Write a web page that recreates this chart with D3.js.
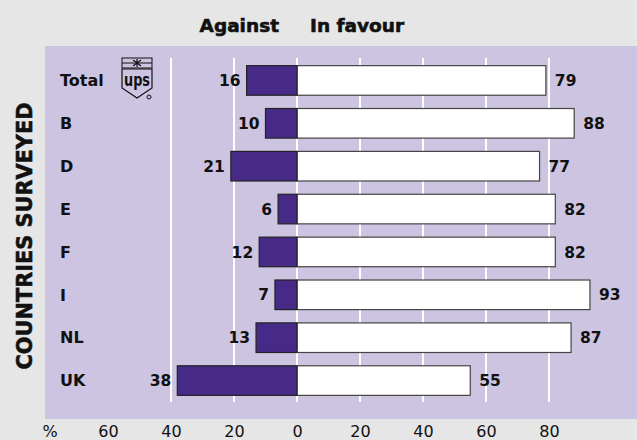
<!DOCTYPE html>
<html>
<head>
<meta charset="utf-8">
<script src="https://cdn.jsdelivr.net/npm/d3@7"></script>
<style>
  html, body { margin: 0; padding: 0; background: #e6e6e6; }
  svg { display: block; }
  text { font-family: "DejaVu Sans", sans-serif; fill: #111; }
</style>
</head>
<body>
<svg id="chart" width="637" height="440"></svg>
<script>
// Survey results by country (percent)
const countries = ["Total", "B", "D", "E", "F", "I", "NL", "UK"];
const against   = [16, 10, 21, 6, 12, 7, 13, 38];
const inFavour  = [79, 88, 77, 82, 82, 93, 87, 55];
const gridTicks = [-40, -20, 0, 20, 40, 60, 80];
const axisTicks = [-60, -40, -20, 0, 20, 40, 60, 80];

const W = 637, H = 440;
const svg = d3.select("#chart");

const C = {
  bg: "#e6e6e6",
  panel: "#ccc4e0",
  against: "#472a87",
  favour: "#ffffff",
  grid: "#ffffff"
};

const panel = { x0: 45, x1: 637, y0: 46, y1: 419 };

const x = d3.scaleLinear().domain([-60, 80]).range([108, 549]);
const y = d3.scaleBand().domain(countries).range([59, 402])
  .paddingInner(0.31).paddingOuter(0.155);

const rows = countries.map((c, i) => ({ c, a: against[i], f: inFavour[i] }));

// background + panel
svg.append("rect").attr("width", W).attr("height", H).attr("fill", C.bg);
svg.append("rect")
  .attr("x", panel.x0).attr("y", panel.y0)
  .attr("width", panel.x1 - panel.x0).attr("height", panel.y1 - panel.y0)
  .attr("fill", C.panel);

// headers (extra stroke for a heavy display weight)
const heavy = sel => sel.attr("stroke", "#111").attr("stroke-width", 0.6)
  .attr("paint-order", "stroke");
svg.append("text").attr("x", 279).attr("y", 32).attr("text-anchor", "end")
  .attr("font-weight", "bold").attr("font-size", 18.5).text("Against").call(heavy);
svg.append("text").attr("x", 310).attr("y", 32).attr("text-anchor", "start")
  .attr("font-weight", "bold").attr("font-size", 18.5).text("In favour").call(heavy);

// vertical axis title
svg.append("text")
  .attr("transform", "translate(32,236) rotate(-90)")
  .attr("text-anchor", "middle")
  .attr("font-weight", "bold").attr("font-size", 22)
  .attr("textLength", 267).attr("lengthAdjust", "spacingAndGlyphs")
  .text("COUNTRIES SURVEYED").call(heavy);

// gridlines
svg.append("g").selectAll("line").data(gridTicks).join("line")
  .attr("x1", d => x(d)).attr("x2", d => x(d))
  .attr("y1", 58).attr("y2", 402)
  .attr("stroke", C.grid).attr("stroke-width", 2);

// bars
const bars = svg.append("g");
bars.selectAll("rect.fav").data(rows).join("rect").attr("class", "fav")
  .attr("x", x(0)).attr("y", d => y(d.c))
  .attr("width", d => x(d.f) - x(0)).attr("height", y.bandwidth())
  .attr("fill", C.favour).attr("stroke", "#444").attr("stroke-width", 1.2);
bars.selectAll("rect.ag").data(rows).join("rect").attr("class", "ag")
  .attr("x", d => x(-d.a)).attr("y", d => y(d.c))
  .attr("width", d => x(0) - x(-d.a)).attr("height", y.bandwidth())
  .attr("fill", C.against).attr("stroke", "#222").attr("stroke-width", 1.2);

// value labels
const mid = d => y(d.c) + y.bandwidth() / 2;
svg.append("g").selectAll("text").data(rows).join("text")
  .attr("x", d => x(-d.a) - 6).attr("y", mid)
  .attr("dy", "0.36em").attr("text-anchor", "end")
  .attr("font-weight", "bold").attr("font-size", 15.5)
  .text(d => d.a);
svg.append("g").selectAll("text").data(rows).join("text")
  .attr("x", d => x(d.f) + 9).attr("y", mid)
  .attr("dy", "0.36em").attr("text-anchor", "start")
  .attr("font-weight", "bold").attr("font-size", 15.5)
  .text(d => d.f);

// category labels
svg.append("g").selectAll("text").data(rows).join("text")
  .attr("x", 60).attr("y", mid).attr("dy", "0.36em")
  .attr("font-weight", "bold").attr("font-size", 16)
  .text(d => d.c);

// bottom axis
const axis = d3.axisBottom(x).tickValues(axisTicks)
  .tickFormat(d => Math.abs(d)).tickSize(0).tickPadding(0);
const ax = svg.append("g").attr("transform", "translate(0,426)").call(axis);
ax.select(".domain").remove();
ax.selectAll("text").attr("font-size", 16).attr("fill", "#111")
  .style("font-family", "'DejaVu Sans', sans-serif");
svg.append("text").attr("x", 50).attr("y", 426).attr("dy", "0.71em")
  .attr("text-anchor", "middle").attr("font-size", 16).text("%");

// UPS shield emblem next to "Total"
const logo = svg.append("g").attr("transform", "translate(122,58)")
  .attr("fill", "none").attr("stroke", "#111").attr("stroke-width", 1);
logo.append("rect").attr("x", 0).attr("y", 0).attr("width", 30).attr("height", 10);
logo.append("line").attr("x1", 0).attr("x2", 30).attr("y1", 5).attr("y2", 5);
logo.append("path").attr("d", "M11,2 L19,8 M19,2 L11,8 M15,1 L15,9")
  .attr("stroke-width", 1.2);
logo.append("path")
  .attr("d", "M0,11 L30,11 L30,30 L15,40 L0,30 Z").attr("stroke-width", 1.2);
logo.append("text").attr("x", 15).attr("y", 28).attr("text-anchor", "middle")
  .attr("stroke", "none").attr("fill", "#111")
  .attr("font-family", "'Liberation Sans Narrow', 'DejaVu Sans Condensed', sans-serif")
  .attr("font-weight", "bold").attr("font-size", 18)
  .attr("textLength", 26).attr("lengthAdjust", "spacingAndGlyphs")
  .text("ups");
logo.append("circle").attr("cx", 27).attr("cy", 39).attr("r", 2).attr("stroke-width", 1);
</script>
</body>
</html>
